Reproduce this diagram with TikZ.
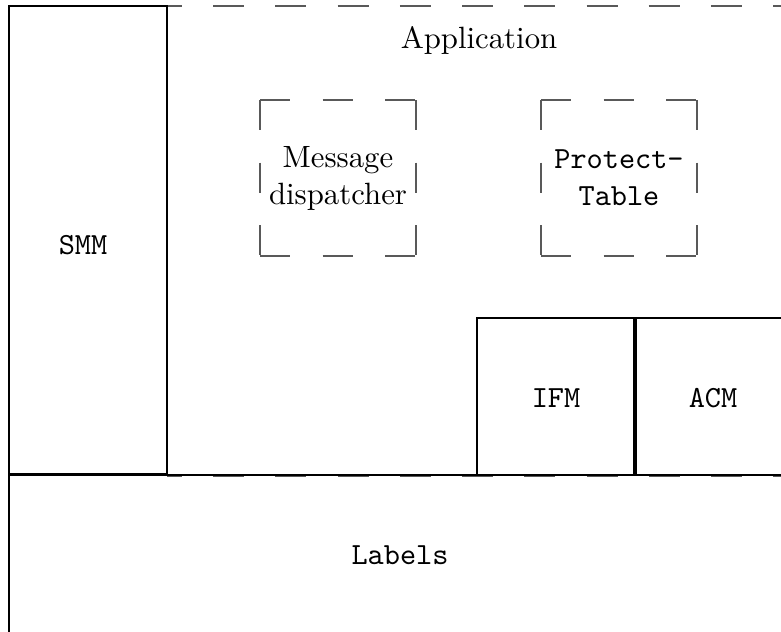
\documentclass[tikz,border=0pt]{standalone}
\begin{document}
\begin{tikzpicture}[x=0.325pt,y=-0.325pt,
  solidbox/.style={draw=black,line width=0.65pt},
  appline/.style={draw=black!65,line width=0.35pt,dash pattern=on 10.08pt off 10.14pt,dash phase=5.2pt},
  inline/.style={draw=black!65,line width=0.35pt,dash pattern=on 9.75pt off 10.6pt},
  rmtext/.style={font=\rmfamily,align=center,inner sep=0pt},
  tttext/.style={font=\ttfamily,align=center,inner sep=0pt}]
\useasboundingbox (0,0) rectangle (781,631);
% Application (dashed, extends beyond right edge)
\draw[appline] (167,6) -- (800,6);
\draw[appline] (167,476) -- (800,476);
\node[rmtext] (app) at (479,40) {Application};
% Message dispatcher
\draw[inline] (260,100) -- (416,100);
\draw[inline] (260,256) -- (416,256);
\draw[inline] (260,100) -- (260,256);
\draw[inline] (416,100) -- (416,256);
\node[rmtext] (md) at (338,178) {Message\\dispatcher};
% Protect-Table
\draw[inline] (541,100) -- (697,100);
\draw[inline] (541,256) -- (697,256);
\draw[inline] (541,100) -- (541,256);
\draw[inline] (697,100) -- (697,256);
\node[tttext] (pt) at (619,178) {Protect-\\Table};
% SMM
\draw[solidbox] (9,6) rectangle (167,474);
\node[tttext] (smm) at (83,245) {SMM};
% IFM, ACM
\draw[solidbox] (477,318) rectangle (634,475);
\node[tttext] (ifm) at (556,398) {IFM};
\draw[solidbox] (636,318) rectangle (793,475);
\node[tttext] (acm) at (713,398) {ACM};
% Labels
\draw[solidbox] (9,640) -- (9,475) -- (800,475);
\node[tttext] (lab) at (400,555) {Labels};
\end{tikzpicture}
\end{document}
